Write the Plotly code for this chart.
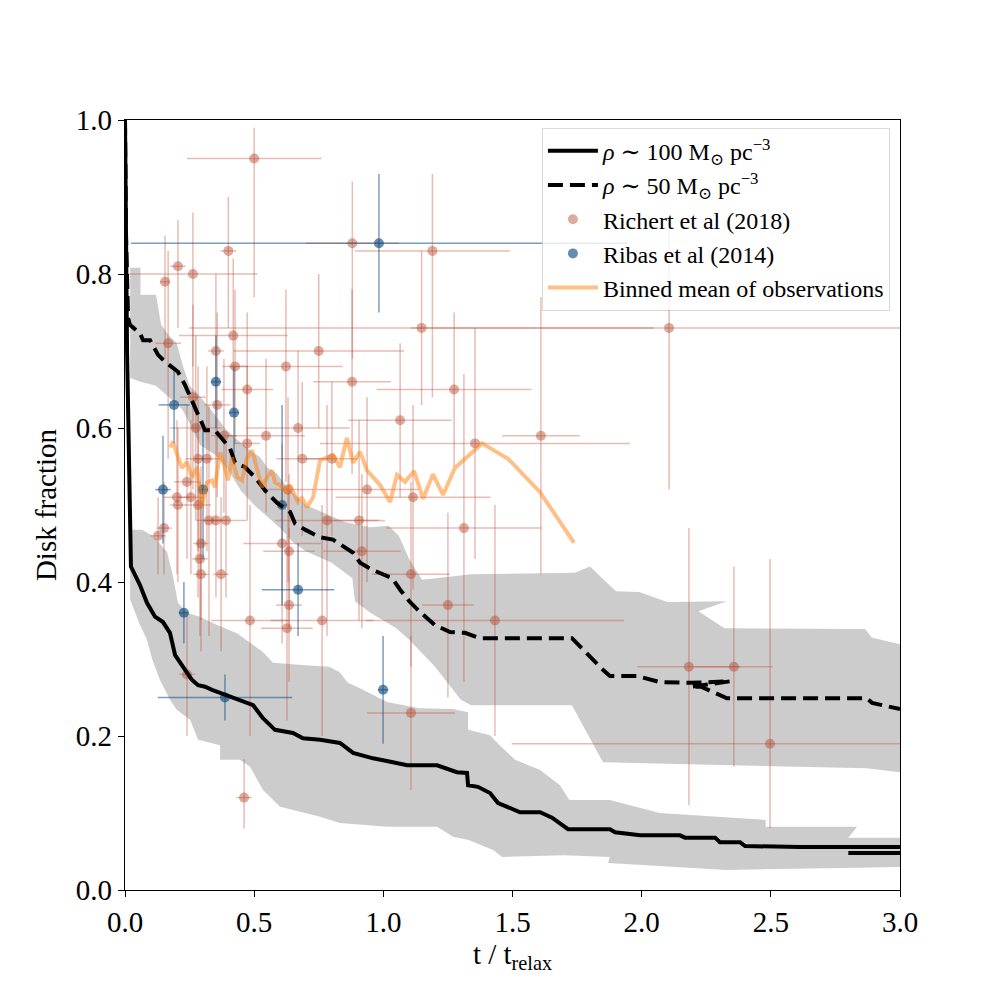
import plotly.graph_objects as go

# ---- simulation curves (t / t_relax, disk fraction) ----
rho100_t = [0, 0.008, 0.023, 0.058, 0.085, 0.116, 0.147, 0.174, 0.194, 0.213, 0.24, 0.259,
            0.283, 0.31, 0.337, 0.368, 0.406, 0.445, 0.496, 0.534, 0.581, 0.65, 0.689, 0.755,
            0.832, 0.883, 0.96, 1.037, 1.092, 1.208, 1.285, 1.324, 1.328, 1.366, 1.413, 1.444,
            1.529, 1.607, 1.653, 1.715, 1.877, 1.897, 1.994, 2.148, 2.168, 2.284, 2.303, 2.381,
            2.40, 2.613, 3.0, None, 2.80, 3.0]
rho100_f = [1.0, 0.70, 0.42, 0.396, 0.373, 0.355, 0.348, 0.334, 0.305, 0.295, 0.283, 0.273,
            0.266, 0.264, 0.26, 0.256, 0.251, 0.247, 0.24, 0.223, 0.208, 0.204, 0.197, 0.195,
            0.191, 0.178, 0.171, 0.166, 0.162, 0.162, 0.153, 0.152, 0.136, 0.134, 0.126, 0.113,
            0.101, 0.101, 0.094, 0.079, 0.079, 0.075, 0.071, 0.071, 0.068, 0.068, 0.062, 0.062,
            0.057, 0.056, 0.056, None, 0.048, 0.048]

rho50_t = [0, 0.004, 0.012, 0.019, 0.058, 0.07, 0.097, 0.128, 0.155, 0.205, 0.232, 0.259,
           0.29, 0.31, 0.348, 0.375, 0.406, 0.426, 0.465, 0.503, 0.542, 0.588, 0.639, 0.658,
           0.697, 0.755, 0.805, 0.883, 0.91, 0.956, 1.006, 1.034, 1.065, 1.103, 1.142, 1.2,
           1.258, 1.316, 1.374, 1.73, 1.85, 1.877, 1.982, 2.071, 2.187, 2.342, 2.19, 2.23,
           2.33, 2.872, 2.892, 3.0]
rho50_f = [1.0, 0.85, 0.743, 0.734, 0.723, 0.714, 0.714, 0.695, 0.686, 0.673, 0.656, 0.636,
           0.613, 0.597, 0.597, 0.587, 0.574, 0.555, 0.549, 0.536, 0.519, 0.503, 0.491, 0.476,
           0.468, 0.458, 0.455, 0.438, 0.425, 0.416, 0.409, 0.405, 0.39, 0.374, 0.361, 0.344,
           0.335, 0.334, 0.327, 0.327, 0.286, 0.278, 0.278, 0.27, 0.269, 0.271, 0.264, 0.264,
           0.249, 0.249, 0.243, 0.235]

# ---- spread bands (upper edge then lower edge) ----
band50_hi_t = [0.02, 0.06, 0.06, 0.12, 0.14, 0.17, 0.20, 0.225, 0.25, 0.28, 0.33, 0.387,
               0.414, 0.472, 0.523, 0.55, 0.588, 0.627, 0.70, 0.78, 0.85, 0.95, 1.02, 1.06,
               1.10, 1.15, 1.34, 1.74, 1.80, 1.90, 1.99, 2.10, 2.33, 2.22, 2.32, 2.865, 2.89, 3.0]
band50_hi_f = [0.808, 0.808, 0.773, 0.773, 0.734, 0.72, 0.71, 0.68, 0.655, 0.645, 0.625, 0.60,
               0.591, 0.574, 0.562, 0.549, 0.541, 0.523, 0.50, 0.488, 0.478, 0.471, 0.473, 0.46,
               0.43, 0.403, 0.41, 0.412, 0.42, 0.388, 0.387, 0.374, 0.375, 0.362, 0.340, 0.339,
               0.328, 0.319]
band50_lo_t = [0.02, 0.06, 0.12, 0.17, 0.22, 0.26, 0.29, 0.35, 0.40, 0.45, 0.50, 0.55, 0.60,
               0.65, 0.70, 0.80, 0.88, 0.89, 0.95, 1.05, 1.10, 1.20, 1.30, 1.34, 1.73, 1.85,
               2.33, 2.87, 3.0]
band50_lo_f = [0.665, 0.66, 0.655, 0.64, 0.625, 0.60, 0.578, 0.565, 0.545, 0.518, 0.50, 0.485,
               0.47, 0.452, 0.44, 0.425, 0.405, 0.375, 0.36, 0.34, 0.325, 0.29, 0.247, 0.24,
               0.24, 0.166, 0.162, 0.158, 0.153]

band100_hi_t = [0.02, 0.066, 0.11, 0.163, 0.186, 0.205, 0.24, 0.29, 0.35, 0.435, 0.534, 0.573,
                0.70, 0.79, 0.83, 0.863, 0.91, 1.014, 1.14, 1.27, 1.328, 1.328, 1.413, 1.45,
                1.51, 1.607, 1.684, 1.72, 1.877, 2.07, 2.48, 2.48, 2.834, 2.80, 3.0]
band100_hi_f = [0.468, 0.468, 0.459, 0.439, 0.407, 0.373, 0.36, 0.355, 0.345, 0.333, 0.309,
                0.295, 0.292, 0.29, 0.283, 0.269, 0.262, 0.244, 0.236, 0.235, 0.231, 0.208,
                0.201, 0.188, 0.169, 0.156, 0.136, 0.117, 0.117, 0.10, 0.091, 0.082, 0.082,
                0.068, 0.068]
band100_lo_t = [0.02, 0.058, 0.085, 0.105, 0.135, 0.174, 0.20, 0.252, 0.283, 0.368, 0.368,
                0.445, 0.484, 0.534, 0.60, 0.685, 0.755, 0.832, 1.014, 1.208, 1.27, 1.33, 1.425,
                1.46, 1.70, 1.877, 1.87, 2.33, 2.834, 3.0]
band100_lo_f = [0.377, 0.344, 0.325, 0.30, 0.273, 0.247, 0.234, 0.221, 0.195, 0.188, 0.169,
                0.169, 0.16, 0.13, 0.108, 0.101, 0.095, 0.087, 0.082, 0.082, 0.069, 0.065, 0.052,
                0.043, 0.045, 0.043, 0.035, 0.026, 0.029, 0.03]

# ---- observations: Richert et al (2018) ----
richert_t = [0.50, 0.88, 1.19, 0.40, 0.205, 0.263, 0.155, 1.148, 2.106, 0.167, 0.419, 0.352,
             0.750, 0.426, 0.623, 0.879, 0.473, 1.274, 0.263, 0.357, 1.065, 0.274, 0.383, 0.546,
             0.670, 1.61, 1.355, 0.473, 0.283, 0.317, 0.686, 0.801, 0.937, 0.631, 0.240, 1.115,
             0.201, 0.255, 0.205, 0.283, 0.325, 0.352, 0.391, 0.782, 0.906, 1.312, 0.151, 0.128,
             0.608, 0.635, 0.917, 0.294, 0.290, 0.294, 0.372, 1.107, 0.635, 1.250, 0.484, 0.627,
             0.763, 1.432, 0.240, 1.107, 0.461, 2.183, 2.357, 2.497]
richert_f = [0.95, 0.84, 0.83, 0.83, 0.81, 0.80, 0.79, 0.73, 0.73, 0.71, 0.72, 0.70,
             0.70, 0.68, 0.68, 0.66, 0.65, 0.65, 0.64, 0.63, 0.61, 0.60, 0.59, 0.59,
             0.60, 0.59, 0.58, 0.58, 0.56, 0.56, 0.56, 0.56, 0.52, 0.52, 0.53, 0.51,
             0.51, 0.51, 0.50, 0.50, 0.48, 0.48, 0.48, 0.48, 0.48, 0.47, 0.47, 0.46,
             0.45, 0.44, 0.44, 0.45, 0.43, 0.41, 0.41, 0.41, 0.37, 0.37, 0.35, 0.34,
             0.35, 0.35, 0.28, 0.23, 0.12, 0.29, 0.29, 0.19]
richert_terr = [0.26, 0.18, 0.30, 0.03, 0.03, 0.25, 0.02, 0.90, 1.0, 0.05, 0.21, 0.03,
                0.33, 0.05, 0.22, 0.15, 0.10, 0.30, 0.05, 0.05, 0.20, 0.10, 0.05, 0.15,
                0.20, 0.15, 0.60, 0.05, 0.05, 0.05, 0.10, 0.10, 0.20, 0.10, 0.05, 0.30,
                0.05, 0.05, 0.03, 0.05, 0.05, 0.05, 0.08, 0.20, 0.10, 0.30, 0.03, 0.03,
                0.15, 0.10, 0.15, 0.03, 0.03, 0.03, 0.03, 0.15, 0.05, 0.10, 0.15, 0.10,
                0.20, 0.50, 0.03, 0.17, 0.03, 0.20, 0.15, 1.0]
richert_ferr_lo = [0.18, 0.15, 0.19, 0.10, 0.08, 0.12, 0.10, 0.10, 0.21, 0.15, 0.10, 0.12,
                   0.10, 0.10, 0.15, 0.12, 0.10, 0.10, 0.12, 0.12, 0.10, 0.12, 0.10, 0.10,
                   0.10, 0.18, 0.15, 0.10, 0.12, 0.12, 0.10, 0.10, 0.12, 0.12, 0.10, 0.12,
                   0.10, 0.10, 0.10, 0.12, 0.15, 0.10, 0.10, 0.15, 0.13, 0.20, 0.06, 0.05,
                   0.13, 0.10, 0.10, 0.10, 0.10, 0.10, 0.10, 0.12, 0.10, 0.12, 0.15, 0.12,
                   0.15, 0.15, 0.08, 0.10, 0.04, 0.18, 0.13, 0.11]
richert_ferr_hi = [0.04, 0.08, 0.10, 0.07, 0.06, 0.08, 0.06, 0.10, 0.14, 0.12, 0.10, 0.10,
                   0.10, 0.10, 0.10, 0.12, 0.10, 0.10, 0.12, 0.12, 0.10, 0.12, 0.10, 0.10,
                   0.10, 0.18, 0.15, 0.10, 0.12, 0.12, 0.10, 0.10, 0.12, 0.12, 0.10, 0.12,
                   0.10, 0.10, 0.10, 0.12, 0.15, 0.10, 0.10, 0.15, 0.13, 0.20, 0.06, 0.05,
                   0.13, 0.10, 0.10, 0.10, 0.10, 0.10, 0.10, 0.12, 0.10, 0.12, 0.15, 0.12,
                   0.15, 0.15, 0.08, 0.10, 0.05, 0.18, 0.13, 0.24]

# ---- observations: Ribas et al (2014) ----
ribas_t = [0.983, 0.352, 0.190, 0.422, 0.147, 0.302, 0.608, 0.670, 0.228, 0.387, 0.999]
ribas_f = [0.84, 0.66, 0.63, 0.62, 0.52, 0.52, 0.50, 0.39, 0.36, 0.25, 0.26]
ribas_terr = [0.96, 0.02, 0.06, 0.02, 0.03, 0.02, 0.02, 0.14, 0.02, 0.26, 0.02]
ribas_ferr = [0.09, 0.06, 0.05, 0.06, 0.07, 0.09, 0.13, 0.06, 0.04, 0.03, 0.07]

# ---- binned mean of observations ----
binned_t = [0.174, 0.186, 0.205, 0.221, 0.240, 0.259, 0.279, 0.298, 0.317, 0.337, 0.348,
            0.368, 0.379, 0.399, 0.414, 0.434, 0.453, 0.472, 0.492, 0.511, 0.530, 0.550,
            0.569, 0.581, 0.600, 0.627, 0.639, 0.666, 0.685, 0.705, 0.728, 0.755, 0.805,
            0.832, 0.859, 0.883, 0.910, 0.937, 0.960, 0.987, 1.026, 1.053, 1.084, 1.119,
            1.154, 1.192, 1.231, 1.277, 1.382, 1.483, 1.606, 1.738]
binned_f = [0.575, 0.582, 0.562, 0.548, 0.556, 0.536, 0.549, 0.497, 0.529, 0.532, 0.523,
            0.568, 0.558, 0.532, 0.562, 0.536, 0.532, 0.561, 0.571, 0.549, 0.523, 0.536,
            0.545, 0.529, 0.526, 0.517, 0.526, 0.506, 0.509, 0.497, 0.510, 0.558, 0.565,
            0.549, 0.587, 0.555, 0.569, 0.545, 0.536, 0.526, 0.504, 0.539, 0.530, 0.544,
            0.508, 0.540, 0.513, 0.548, 0.580, 0.560, 0.517, 0.451]

FONT = "Liberation Serif, DejaVu Serif, serif"
BAND = "rgba(0,0,0,0.2)"
RED = "rgba(180,70,45,0.45)"
RED_ERR = "rgba(190,80,55,0.38)"
BLUE = "rgba(20,80,130,0.65)"
BLUE_ERR = "rgba(20,80,130,0.55)"

fig = go.Figure()

# bands
for hi_t, hi_f, lo_t, lo_f in [(band100_hi_t, band100_hi_f, band100_lo_t, band100_lo_f),
                               (band50_hi_t, band50_hi_f, band50_lo_t, band50_lo_f)]:
    fig.add_trace(go.Scatter(
        x=hi_t + lo_t[::-1], y=hi_f + lo_f[::-1],
        mode="lines", fill="toself", fillcolor=BAND,
        line=dict(width=0), hoverinfo="skip", showlegend=False))

fig.add_trace(go.Scatter(
    x=richert_t, y=richert_f, mode="markers", name="Richert et al (2018)",
    marker=dict(size=10, color=RED, line=dict(width=0)),
    error_x=dict(type="data", array=richert_terr, color=RED_ERR, thickness=1.5, width=0),
    error_y=dict(type="data", symmetric=False, array=richert_ferr_hi,
                 arrayminus=richert_ferr_lo, color=RED_ERR, thickness=1.5, width=0),
    legendrank=3))

fig.add_trace(go.Scatter(
    x=ribas_t, y=ribas_f, mode="markers", name="Ribas et al (2014)",
    marker=dict(size=10, color=BLUE, line=dict(width=0)),
    error_x=dict(type="data", array=ribas_terr, color=BLUE_ERR, thickness=1.5, width=0),
    error_y=dict(type="data", array=ribas_ferr, color=BLUE_ERR, thickness=1.5, width=0),
    legendrank=4))

fig.add_trace(go.Scatter(
    x=rho100_t, y=rho100_f, mode="lines",
    name="<i>ρ</i> ∼ 100 M<sub>⊙</sub> pc<sup>−3</sup>",
    line=dict(color="black", width=4), legendrank=1))

fig.add_trace(go.Scatter(
    x=rho50_t, y=rho50_f, mode="lines",
    name="<i>ρ</i> ∼ 50 M<sub>⊙</sub> pc<sup>−3</sup>",
    line=dict(color="black", width=4, dash="15px,7px"), legendrank=2))

fig.add_trace(go.Scatter(
    x=binned_t, y=binned_f, mode="lines", name="Binned mean of observations",
    line=dict(color="rgba(255,127,14,0.5)", width=4), legendrank=5))

axis_common = dict(
    showline=True, linecolor="black", linewidth=1.2, mirror=True,
    ticks="outside", ticklen=6, tickwidth=1.2, tickcolor="black",
    showgrid=False, zeroline=False, tickformat=".1f",
    tickfont=dict(family=FONT, size=29, color="black"),
)

# page body has an 8px margin, so the plot area is shifted back by that much
fig.update_layout(
    width=1000, height=1000,
    margin=dict(l=117, r=108, t=112, b=118),
    plot_bgcolor="white", paper_bgcolor="white",
    font=dict(family=FONT, color="black"),
    showlegend=True,
    legend=dict(
        x=0.987, y=0.99, xanchor="right", yanchor="top",
        bgcolor="rgba(255,255,255,0.8)", bordercolor="rgba(0,0,0,0.15)", borderwidth=1,
        font=dict(family=FONT, size=24, color="black"),
        itemwidth=50, tracegroupgap=2,
    ),
)
fig.update_xaxes(range=[0, 3], tickvals=[0, 0.5, 1.0, 1.5, 2.0, 2.5, 3.0],
                 title=dict(text="t / t<sub>relax</sub>", font=dict(family=FONT, size=29),
                            standoff=0),
                 **axis_common)
fig.update_yaxes(range=[0, 1], tickvals=[0, 0.2, 0.4, 0.6, 0.8, 1.0],
                 title=dict(text="Disk fraction", font=dict(family=FONT, size=29),
                            standoff=10),
                 **axis_common)

fig.write_html("out.html")
